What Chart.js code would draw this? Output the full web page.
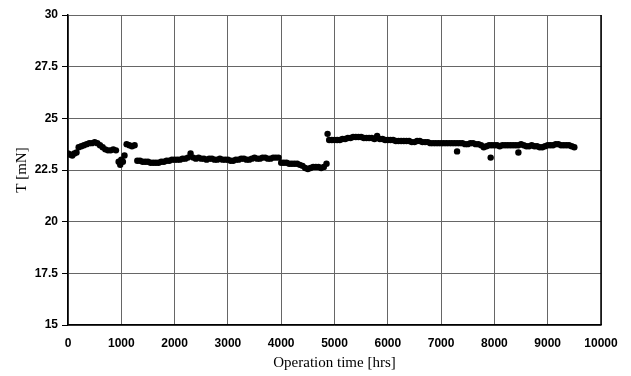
<!DOCTYPE html>
<html>
<head>
<meta charset="utf-8">
<script src="https://cdn.jsdelivr.net/npm/chart.js@4.4.1/dist/chart.umd.min.js"></script>
<style>
  html, body { margin: 0; padding: 0; background: #fff; }
  #wrap { width: 631px; height: 376px; }
</style>
</head>
<body>
<div id="wrap"><canvas id="thrust-chart" width="631" height="376"></canvas></div>
<script>
// operation time [hrs] and thrust T [mN]
const hours = [
  0, 40, 80, 120, 160, 200, 250, 300, 350, 400, 450, 500, 550, 600, 650, 700, 750, 800, 850, 900,
  950, 980, 1000, 1030, 1060, 1100, 1150, 1200, 1250, 1300, 1350, 1400, 1450, 1500, 1550, 1600, 1650, 1700, 1750, 1800,
  1850, 1900, 1950, 2000, 2050, 2100, 2150, 2200, 2250, 2300, 2350, 2400, 2450, 2500, 2550, 2600, 2650, 2700, 2750, 2800,
  2850, 2900, 2950, 3000, 3050, 3100, 3150, 3200, 3250, 3300, 3350, 3400, 3450, 3500, 3550, 3600, 3650, 3700, 3750, 3800,
  3850, 3900, 3950, 4000, 4050, 4100, 4150, 4200, 4250, 4300, 4350, 4400, 4450, 4500, 4550, 4600, 4650, 4700, 4750, 4800,
  4850, 4870, 4900, 4950, 5000, 5050, 5100, 5150, 5200, 5250, 5300, 5350, 5400, 5450, 5500, 5550, 5600, 5650, 5700, 5750,
  5800, 5850, 5900, 5950, 6000, 6050, 6100, 6150, 6200, 6250, 6300, 6350, 6400, 6450, 6500, 6550, 6600, 6650, 6700, 6750,
  6800, 6850, 6900, 6950, 7000, 7050, 7100, 7150, 7200, 7250, 7300, 7300, 7350, 7400, 7450, 7500, 7550, 7600, 7650, 7700,
  7750, 7800, 7850, 7900, 7930, 7950, 8000, 8050, 8100, 8150, 8200, 8250, 8300, 8350, 8400, 8450, 8450, 8500, 8550, 8600,
  8650, 8700, 8750, 8800, 8850, 8900, 8950, 9000, 9050, 9100, 9150, 9200, 9250, 9300, 9350, 9400, 9450, 9500
];
const thrust = [
  23.3, 23.25, 23.2, 23.3, 23.35, 23.6, 23.65, 23.7, 23.75, 23.8, 23.8, 23.85, 23.8, 23.7, 23.6, 23.5, 23.45, 23.45, 23.5, 23.45,
  22.9, 22.75, 23.0, 22.9, 23.2, 23.75, 23.7, 23.65, 23.7, 22.95, 22.95, 22.9, 22.9, 22.9, 22.85, 22.85, 22.85, 22.85, 22.9, 22.9,
  22.95, 22.95, 23.0, 23.0, 23.0, 23.0, 23.05, 23.05, 23.1, 23.3, 23.1, 23.05, 23.1, 23.05, 23.05, 23.0, 23.05, 23.05, 23.0, 23.0,
  23.05, 23.0, 23.0, 23.0, 22.95, 22.95, 23.0, 23.0, 23.05, 23.05, 23.0, 23.0, 23.05, 23.1, 23.05, 23.05, 23.1, 23.1, 23.05, 23.05,
  23.1, 23.1, 23.1, 22.85, 22.85, 22.85, 22.8, 22.8, 22.8, 22.8, 22.75, 22.7, 22.6, 22.55, 22.6, 22.65, 22.65, 22.65, 22.6, 22.65,
  22.8, 24.25, 23.95, 23.95, 23.95, 23.95, 23.95, 24.0, 24.0, 24.05, 24.05, 24.1, 24.1, 24.1, 24.1, 24.05, 24.05, 24.05, 24.05, 24.0,
  24.15, 24.0, 24.0, 23.95, 23.95, 23.95, 23.95, 23.9, 23.9, 23.9, 23.9, 23.9, 23.9, 23.85, 23.85, 23.9, 23.9, 23.85, 23.85, 23.85,
  23.8, 23.8, 23.8, 23.8, 23.8, 23.8, 23.8, 23.8, 23.8, 23.8, 23.4, 23.8, 23.8, 23.8, 23.75, 23.75, 23.8, 23.8, 23.75, 23.75,
  23.7, 23.6, 23.65, 23.7, 23.1, 23.7, 23.7, 23.7, 23.65, 23.7, 23.7, 23.7, 23.7, 23.7, 23.7, 23.35, 23.7, 23.75, 23.7, 23.65,
  23.65, 23.7, 23.65, 23.65, 23.6, 23.6, 23.65, 23.7, 23.7, 23.7, 23.75, 23.75, 23.7, 23.7, 23.7, 23.7, 23.65, 23.6
];
const yTicks = [15, 17.5, 20, 22.5, 25, 27.5, 30];

const points = hours.map((h, i) => ({ x: h, y: thrust[i] }));

const tickFont = { family: 'Liberation Sans', size: 12, weight: 'bold' };
const titleFont = { family: 'Liberation Serif', size: 15 };

new Chart(document.getElementById('thrust-chart'), {
  type: 'scatter',
  data: {
    datasets: [{
      data: points,
      pointRadius: 3.2,
      pointBackgroundColor: '#000',
      pointBorderWidth: 0,
      pointHoverRadius: 3.2
    }]
  },
  options: {
    responsive: false,
    animation: false,
    layout: { padding: { left: 0, right: 30, top: 15, bottom: 0 } },
    plugins: { legend: { display: false }, tooltip: { enabled: false } },
    scales: {
      x: {
        type: 'linear',
        min: 0,
        max: 10000,
        afterFit: (scale) => { scale.height = 51; },
        ticks: { stepSize: 1000, color: '#000', font: tickFont, padding: 11, maxRotation: 0,
                 callback: (v) => String(v) },
        grid: { color: '#666', drawTicks: false },
        border: { color: '#000', width: 1.5 },
        title: { display: true, text: 'Operation time [hrs]', color: '#000', font: titleFont, padding: { top: 0, bottom: 4 } }
      },
      y: {
        min: 15,
        max: 30,
        afterFit: (scale) => { scale.width = 68; },
        afterBuildTicks: (scale) => { scale.ticks = yTicks.map(v => ({ value: v })); },
        ticks: { color: '#000', font: tickFont, padding: 4, callback: (v) => String(v) },
        grid: { color: '#666', tickColor: '#000', tickLength: 6 },
        border: { color: '#000', width: 1.5 },
        title: { display: true, text: 'T [mN]', color: '#000', font: titleFont, padding: { top: 13, bottom: 0 } }
      }
    }
  },
  plugins: [{
    id: 'frameRight',
    afterDraw(chart) {
      const { ctx, chartArea: a } = chart;
      ctx.save();
      ctx.strokeStyle = '#000';
      ctx.lineWidth = 1.5;
      ctx.beginPath();
      ctx.moveTo(a.right, a.top);
      ctx.lineTo(a.right, a.bottom);
      ctx.stroke();
      ctx.restore();
    }
  }]
});
</script>
</body>
</html>
